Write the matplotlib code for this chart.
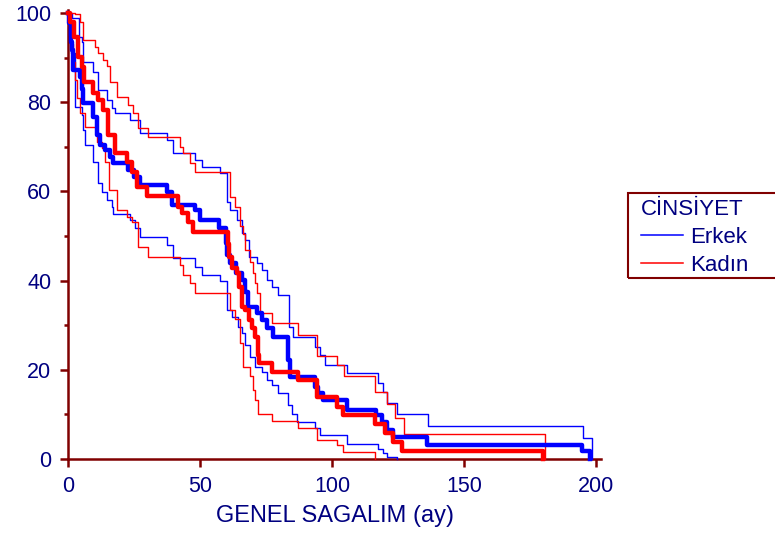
import matplotlib
matplotlib.use("Agg")
import matplotlib.pyplot as plt
from matplotlib.lines import Line2D
from matplotlib.patches import Rectangle
from matplotlib.ticker import MultipleLocator

# Kaplan-Meier: genel sagkalim (ay) vs yüzde, cinsiyete göre
erkek_t = [0, 0.5, 1.1, 1.6, 2.0, 4.5, 5.2, 5.8, 9.6, 11.1,
           12.1, 14.0, 15.9, 17.2, 22.9, 25.0, 27.3, 37.4, 39.3, 48.1,
           50.0, 57.2, 59.8, 60.3, 61.5, 63.6, 65.8, 67.0, 68.3, 71.5,
           73.4, 75.3, 77.7, 83.3, 84.1, 93.6, 94.8, 96.7, 105.6, 116.5,
           118.8, 120.7, 123.2, 135.9, 194.6, 197.7]
erkek_s = [100, 97.8, 93.5, 91.7, 87.2, 85.6, 83.0, 79.8, 76.7, 72.6,
           70.4, 69.3, 67.7, 66.4, 64.8, 63.2, 61.4, 59.9, 57.0, 55.8,
           53.6, 51.8, 48.5, 45.7, 44.0, 41.7, 40.1, 37.4, 34.1, 32.7,
           31.2, 29.4, 27.4, 22.2, 18.3, 16.1, 14.8, 13.2, 11.0, 9.9,
           8.3, 6.5, 4.9, 3.1, 1.9, 0]

erkek_ust_t = [0, 1.5, 4.2, 5.2, 5.8, 9.6, 11.5, 14.6, 16.5, 17.8,
               23.5, 27.3, 37.4, 39.6, 48.1, 50.6, 57.6, 60.1, 61.4, 64.0,
               65.8, 67.0, 68.7, 71.5, 73.4, 75.3, 77.1, 79.4, 83.8, 85.3,
               93.6, 95.5, 97.3, 105.6, 117.3, 119.2, 120.7, 124.5, 136.2, 195.2,
               198.4]
erkek_ust_s = [100, 98.9, 94.6, 93.5, 89.0, 86.8, 82.7, 80.5, 78.7, 77.6,
               76.0, 73.1, 71.5, 68.6, 67.0, 65.5, 64.1, 57.6, 55.8, 53.6,
               50.7, 49.1, 45.3, 43.9, 42.4, 40.1, 38.6, 36.8, 29.6, 27.4,
               25.2, 23.3, 21.1, 19.2, 17.0, 15.1, 12.5, 10.1, 7.4, 4.6,
               0]

erkek_alt_t = [0, 0.4, 1.1, 2.7, 5.2, 5.8, 6.4, 9.6, 11.5, 12.8,
               14.6, 16.5, 17.2, 23.5, 25.4, 27.3, 37.4, 39.6, 48.1, 50.6,
               57.6, 60.1, 62.0, 64.5, 65.8, 67.0, 68.9, 70.8, 73.4, 75.3,
               77.1, 79.7, 83.5, 84.7, 86.6, 93.6, 95.5, 105.6, 117.3, 119.2,
               120.7, 124.5]
erkek_alt_s = [100, 95, 91, 79, 77.1, 73.8, 70.4, 66.7, 61.8, 59.9,
               58.1, 56.6, 54.9, 53.6, 51.7, 49.8, 48.0, 45.1, 43.1, 41.3,
               39.8, 33.4, 31.9, 29.7, 28.2, 25.6, 22.9, 20.7, 19.6, 17.7,
               16.6, 14.7, 12.1, 10.2, 8.4, 6.9, 5.4, 3.4, 2.2, 1.3,
               0.4, 0]

kadin_t = [0, 0.9, 2.3, 3.9, 5.2, 6.1, 9.6, 11.5, 13.4, 15.3,
           17.8, 22.2, 24.1, 26.3, 30.0, 41.8, 43.1, 45.6, 47.5, 60.7,
           61.1, 62.0, 63.9, 64.9, 65.8, 67.0, 68.7, 69.6, 70.8, 71.8,
           72.3, 77.1, 87.2, 94.2, 101.8, 104.0, 116.3, 120.1, 123.2, 126.4,
           180.0]
kadin_s = [100, 98.0, 94.6, 90.1, 87.9, 84.5, 82.1, 80.5, 78.3, 72.6,
           68.6, 66.6, 64.3, 61.0, 59.0, 56.5, 55.2, 53.1, 50.9, 48.3,
           45.3, 42.8, 41.7, 38.6, 34.1, 33.4, 31.2, 29.4, 27.4, 23.3,
           21.5, 19.5, 17.7, 13.9, 11.7, 9.9, 7.9, 5.8, 3.8, 1.9,
           0]

kadin_ust_t = [0, 2.5, 4.5, 5.8, 10.2, 11.5, 13.4, 14.6, 15.9, 18.4,
               22.9, 24.7, 26.6, 30.4, 42.4, 43.7, 46.2, 48.1, 61.4, 63.3,
               65.2, 66.4, 67.0, 68.9, 70.0, 70.8, 71.5, 72.7, 77.1, 87.2,
               94.2, 102.0, 104.5, 116.3, 120.7, 123.9, 127.3, 180.7]
kadin_ust_s = [100, 99.8, 98, 94, 92.4, 91, 89.5, 88, 84.6, 81.2,
               79.4, 77.5, 74.3, 72.3, 70, 68.5, 66.3, 64.4, 58.8, 56.6,
               52.3, 50.4, 46.9, 44.2, 41.6, 39.4, 37.2, 32.7, 30.4, 27.8,
               23.1, 21.0, 18.5, 15.1, 12.3, 9.1, 5.5, 0]

kadin_alt_t = [0, 0.5, 1.2, 1.9, 2.6, 3.5, 4.5, 6.4, 10.9, 12.8,
               14.0, 15.7, 18.4, 22.2, 24.1, 26.6, 30.4, 42.4, 43.7, 46.2,
               48.1, 61.4, 63.3, 65.2, 66.4, 68.9, 70.0, 70.8, 72.1, 77.1,
               87.2, 94.2, 101.8, 104.3, 116.3]
kadin_alt_s = [100, 97, 93, 89, 85, 81, 77.5, 74.5, 71.1, 69.7,
               66.7, 60.3, 55.8, 54.3, 53.2, 47.6, 45.2, 43.5, 41.3, 39.4,
               37.2, 33.4, 31.5, 25.9, 20.7, 18.5, 15.5, 13.2, 10.2, 8.6,
               6.9, 4.3, 3.1, 1.6, 0]

x_ticks = [0, 50, 100, 150, 200]
labels = ["Erkek", "Kadın"]

BLUE = "#0000ff"
RED = "#ff0000"
NAVY = "#000080"
MAROON = "#800000"

plt.rcParams["font.family"] = ["Liberation Sans", "DejaVu Sans"]

fig = plt.figure(figsize=(7.75, 5.35), dpi=100)
ax = fig.add_axes([68 / 775, 76 / 535, 533 / 775, 448.7 / 535])

thin = [(erkek_ust_t, erkek_ust_s, BLUE), (erkek_alt_t, erkek_alt_s, BLUE),
        (kadin_ust_t, kadin_ust_s, RED), (kadin_alt_t, kadin_alt_s, RED)]
for t, s, c in thin:
    ax.step(t, s, where="post", color=c, lw=1.0, zorder=3, clip_on=False)
ax.step(erkek_t, erkek_s, where="post", color=BLUE, lw=3.2, zorder=4, clip_on=False)
ax.step(kadin_t, kadin_s, where="post", color=RED, lw=3.2, zorder=4, clip_on=False)

ax.set_xlim(0, 201.9)
ax.set_ylim(0, 100.6)
ax.spines[["top", "right"]].set_visible(False)
for side in ["left", "bottom"]:
    ax.spines[side].set_color(MAROON)
    ax.spines[side].set_linewidth(1.8)

ax.set_xticks(x_ticks)
ax.yaxis.set_major_locator(MultipleLocator(20))
ax.yaxis.set_minor_locator(MultipleLocator(10))
ax.tick_params(axis="both", which="major", direction="out", colors=MAROON,
               labelcolor=NAVY, labelsize=15.5, width=1.8, length=6, pad=6)
ax.tick_params(axis="y", which="minor", direction="out", colors=MAROON,
               width=1.8, length=3.2)
ax.set_xlabel("GENEL SAGALIM (ay)", fontsize=17, color=NAVY, labelpad=6)

handles = [Line2D([], [], color=BLUE, lw=1.1), Line2D([], [], color=RED, lw=1.1)]
leg = fig.legend(handles, labels, title="CİNSİYET", loc="upper left",
                 bbox_to_anchor=(641 / 775, 1 - 199 / 535), frameon=False,
                 fontsize=16, title_fontsize=16, handlelength=1.9,
                 handletextpad=0.32, labelspacing=0.32, borderpad=0,
                 borderaxespad=0, alignment="left")
leg.get_title().set_color(NAVY)
for txt in leg.get_texts():
    txt.set_color(NAVY)

fig.add_artist(Rectangle((628 / 775, 1 - 278 / 535), 170 / 775, 85 / 535,
                         transform=fig.transFigure, fill=False,
                         edgecolor=MAROON, lw=1.5, clip_on=False))

fig.savefig("out.png", dpi=100)
